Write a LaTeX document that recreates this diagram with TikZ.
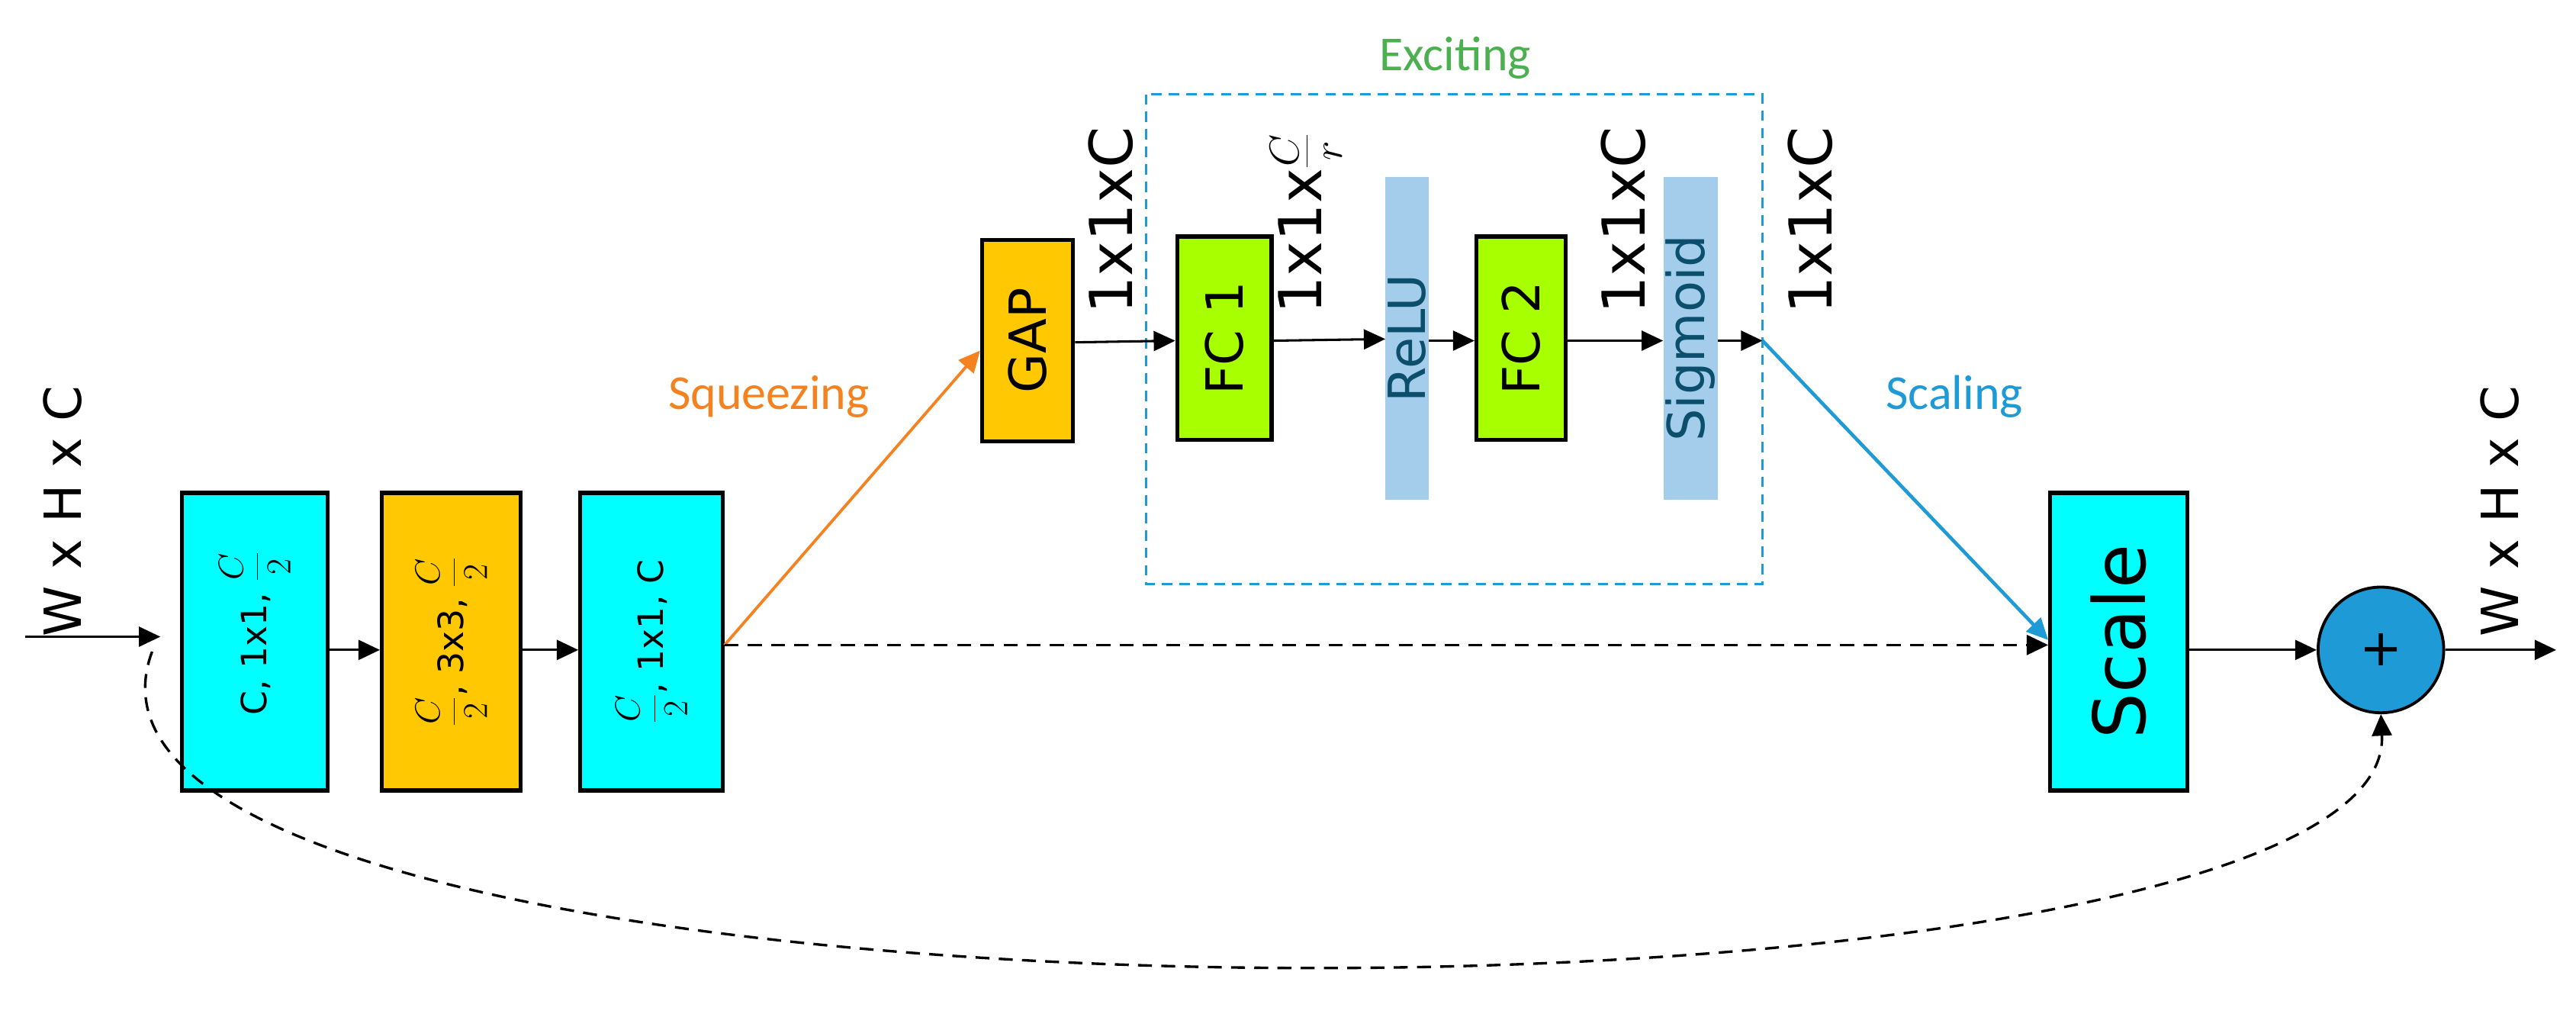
\RequirePackage{fix-cm}
\documentclass[tikz,border=0pt]{standalone}
\usepackage{fontspec}
\setmainfont{DejaVu Sans}
\newfontfamily\calfont{Carlito}
\usetikzlibrary{arrows.meta}
\definecolor{cy}{HTML}{00FFFF}
\definecolor{og}{HTML}{FFC800}
\definecolor{lg}{HTML}{A8FF00}
\definecolor{bar}{HTML}{A3CDEB}
\definecolor{bartext}{HTML}{0B4F6C}
\definecolor{sq}{HTML}{F58220}
\definecolor{bl}{HTML}{1E9AD6}
\definecolor{ex}{HTML}{4CAF50}
\newcommand{\fr}[2]{{\displaystyle\frac{#1}{#2}}}
\begin{document}
\begin{tikzpicture}[x=0.05cm,y=-0.05cm,
  blk/.style={draw=black,line width=3.5pt,inner sep=0pt},
  barS/.style={fill=bar,inner sep=0pt},
  tip/.style={-{Triangle[length=0.65cm,width=0.6cm]}},
  arr/.style={line width=2pt,tip},
  dsh/.style={line width=2.2pt,dash pattern=on 12pt off 8pt},
  rt/.style={rotate=90,inner sep=0pt},
  big/.style={font=\fontsize{51}{55}\selectfont},
  mid/.style={font=\fontsize{44}{48}\selectfont},
  sm/.style={font=\fontsize{30}{34}\selectfont}]
\useasboundingbox (0,0) rectangle (1558,613);
% blocks
\node[blk,fill=cy,minimum width=4.4cm,minimum height=9cm] (b1) at (154,388) {};
\node[blk,fill=og,minimum width=4.2cm,minimum height=9cm] (b2) at (273,388) {};
\node[blk,fill=cy,minimum width=4.3cm,minimum height=9cm] (b3) at (394,388) {};
\node[rt,sm] (t1) at (154,383) {C, 1x1, $\fr{C}{2}$};
\node[rt,sm] (t2) at (273,388) {$\fr{C}{2}$, 3x3, $\fr{C}{2}$};
\node[rt,sm] (t3) at (394,388) {$\fr{C}{2}$, 1x1, C};
\node[blk,fill=og,minimum width=2.75cm,minimum height=6.1cm] (gap) at (621.5,206) {};
\node[rt,mid] at (gap) {GAP};
\node[blk,fill=lg,minimum width=2.85cm,minimum height=6.15cm] (fc1) at (740.5,204.5) {};
\node[rt,mid] at (fc1) {FC 1};
\node[barS,minimum width=1.3cm,minimum height=9.75cm] (relu) at (851,204.5) {};
\node[rt,mid,text=bartext] at (relu) {ReLU};
\node[blk,fill=lg,minimum width=2.7cm,minimum height=6.15cm] (fc2) at (920,204.5) {};
\node[rt,mid] at (fc2) {FC 2};
\node[barS,minimum width=1.65cm,minimum height=9.75cm] (sig) at (1022.5,204.5) {};
\node[rt,mid,text=bartext] at (sig) {Sigmoid};
\node[blk,fill=cy,minimum width=4.15cm,minimum height=9cm] (scale) at (1281.5,388) {};
\node[rt,font=\fontsize{62}{66}\selectfont] at (scale) {Scale};
\node[draw=black,line width=2.5pt,fill=bl,circle,minimum size=3.8cm,inner sep=0pt] (plus) at (1440,393) {};
\node[font=\fontsize{44}{48}\selectfont] at (plus) {+};
% dashed excite box
\draw[bl,line width=2pt,dash pattern=on 9pt off 6pt] (693,57) rectangle (1066,353);
\node[text=ex,font=\calfont\fontsize{42}{46}\selectfont] (exl) at (880,35) {Exciting};
% labels
\node[rt,big,anchor=west] (l1) at (672,190) {1x1xC};
\node[rt,big,anchor=west] (l2) at (790,190) {1x1x$\frac{C}{r}$};
\node[rt,big,anchor=west] (l3) at (982,190) {1x1xC};
\node[rt,big,anchor=west] (l4) at (1095,190) {1x1xC};
\node[rt,mid,anchor=west] (win) at (38,385) {W x H x C};
\node[rt,mid,anchor=west] (wout) at (1512,385) {W x H x C};
\node[text=sq,font=\calfont\fontsize{42}{46}\selectfont] at (465,240) {Squeezing};
\node[text=bl,font=\calfont\fontsize{42}{46}\selectfont] at (1182,240) {Scaling};
% coordinates
\coordinate (in) at (15,385);
\coordinate (ine) at (97,385);
\coordinate (exo) at (1066,206);
\coordinate (out) at (1546,393);
% connectors
\draw[arr] (in) -- (ine);
\draw[arr] (b1.east |- 0,393) -- (b2.west |- 0,393);
\draw[arr] (b2.east |- 0,393) -- (b3.west |- 0,393);
\draw[line width=2.5pt,sq,tip] (b3.east |- 0,390) -- (gap.west |- 0,212);
\draw[arr] (gap.east |- 0,207) -- (fc1.west |- 0,206);
\draw[arr] (fc1.east |- 0,206) -- (relu.west |- 0,205);
\draw[arr] (relu.east |- 0,206) -- (fc2.west |- 0,206);
\draw[arr] (fc2.east |- 0,206) -- (sig.west |- 0,206);
\draw[arr] (sig.east |- 0,206) -- (exo);
\draw[line width=3pt,bl,tip] (exo) -- (scale.west |- 0,387);
\draw[dsh,tip] (b3.east |- 0,390) -- (scale.west |- 0,390);
\draw[arr] (scale.east |- 0,393) -- (plus.west);
\draw[arr] (plus.east) -- (out);
\draw[dsh,tip] (92,394) .. controls (0,640) and (1450,640) .. (plus.south);
\end{tikzpicture}
\end{document}
